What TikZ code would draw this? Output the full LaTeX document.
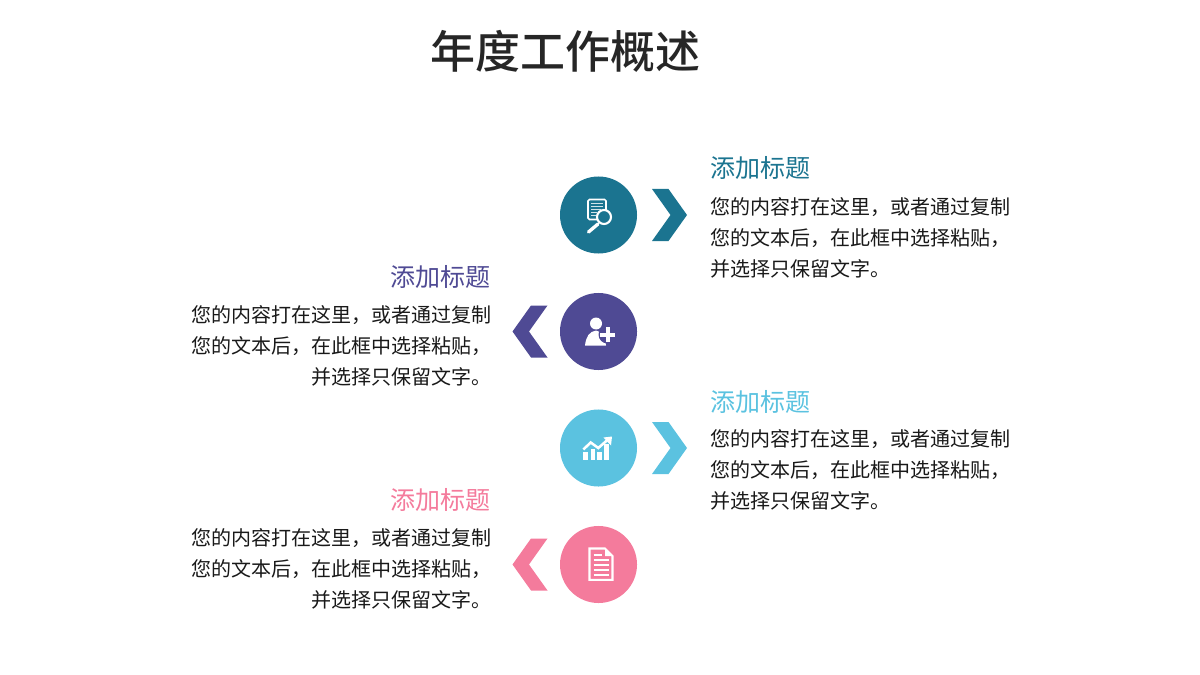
\documentclass[tikz,border=0pt]{standalone}
\usepackage{fontspec}
\setmainfont{Noto Sans CJK SC}
\newfontfamily\titlefont{Noto Sans CJK SC Medium}
\usetikzlibrary{positioning}
\definecolor{tealc}{HTML}{1B7490}
\definecolor{purplec}{HTML}{4F4A94}
\definecolor{skyc}{HTML}{5BC2E0}
\definecolor{pinkc}{HTML}{F47B9C}
\tikzset{
    disc/.style={circle, fill=#1, minimum size=1.925cm, inner sep=0pt},
    heading/.style={text=#1, inner sep=0pt, font=\fontsize{17.8}{22}\selectfont},
    bodyright/.style={anchor=north west, align=left, inner sep=0pt, text=black!90, font=\fontsize{14.23}{22.05}\selectfont},
    bodyleft/.style={anchor=north east, align=right, inner sep=0pt, text=black!90, font=\fontsize{14.23}{22.05}\selectfont},
    chevright/.pic={\fill[pic actions] (-17.5,-26) -- (-1,-26) -- (17.5,0) -- (-1,26) -- (-17.5,26) -- (1,0) -- cycle;},
    chevleft/.pic={\fill[pic actions] (17.5,-26) -- (1,-26) -- (-17.5,0) -- (1,26) -- (17.5,26) -- (-1,0) -- cycle;}
}
\begin{document}
\begin{tikzpicture}[x=0.025cm, y=-0.025cm]
    \useasboundingbox (0,0) rectangle (1200,675);
    \node[inner sep=0pt, text=black!85, font=\fontsize{32}{38}\selectfont\titlefont] (title) at (565,51) {年度工作概述};

    % circles
    \node[disc=tealc] (c1) at (598.5,215) {};
    \node[disc=purplec] (c2) at (598.5,331.5) {};
    \node[disc=skyc] (c3) at (598.5,448) {};
    \node[disc=pinkc] (c4) at (598.5,564.5) {};

    % chevrons
    \pic[fill=tealc] at (669.5,215) {chevright};
    \pic[fill=purplec] at (530,331.5) {chevleft};
    \pic[fill=skyc] at (669.5,448) {chevright};
    \pic[fill=pinkc] at (530,564.5) {chevleft};

    % texts
    \node[heading=tealc, anchor=west] (h1) at (710.5,168) {添加标题};
    \node[bodyright] (b1) at (710.5,197) {您的内容打在这里，或者通过复制\\您的文本后，在此框中选择粘贴，\\并选择只保留文字。};
    \node[heading=purplec, anchor=east] (h2) at (491,277) {添加标题};
    \node[bodyleft] (b2) at (491.5,305) {您的内容打在这里，或者通过复制\\您的文本后，在此框中选择粘贴，\\并选择只保留文字。};
    \node[heading=skyc, anchor=west] (h3) at (710.5,402) {添加标题};
    \node[bodyright] (b3) at (710.5,429) {您的内容打在这里，或者通过复制\\您的文本后，在此框中选择粘贴，\\并选择只保留文字。};
    \node[heading=pinkc, anchor=east] (h4) at (491,500) {添加标题};
    \node[bodyleft] (b4) at (491.5,528) {您的内容打在这里，或者通过复制\\您的文本后，在此框中选择粘贴，\\并选择只保留文字。};

    % icon: report and lens
    \draw[white, line width=1.1pt, rounded corners=1pt] (588,199.5) rectangle (606,219.5);
    \draw[white!80!tealc, line width=0.9pt] (591,203.5) -- (603,203.5) (591,206.5) -- (603,206.5) (591,209.5) -- (601,209.5) (591,212.5) -- (597,212.5) (591,215.5) -- (596,215.5);
    \draw[white, fill=tealc, line width=1.5pt] (604,217) circle (7);
    \draw[white, line width=2.4pt, line cap=round] (598,224) -- (588.5,232);

    % icon: person and plus
    \fill[white] (596,323.5) circle (6);
    \fill[white] (585,345.5) .. controls (586,337) and (589,331.5) .. (596,330.5) .. controls (602,331.5) and (605,337) .. (606,345.5) -- cycle;
    \fill[purplec] (607.5,334.5) circle (9);
    \fill[white] (605.5,327) rectangle (609.5,342);
    \fill[white] (600,332.5) rectangle (615,336.5);

    % icon: growth chart
    \fill[white] (583.3,451.5) rectangle (587.8,459.5);
    \fill[white] (590.5,449) rectangle (595,459.5);
    \fill[white] (597,451.5) rectangle (601.5,459.5);
    \fill[white] (604.3,444) rectangle (608.8,459.5);
    \draw[white, line width=1.8pt] (583.3,449.5) -- (590.7,442.5) -- (598.3,448) -- (608,439.5);
    \fill[white] (603.5,437.5) -- (612,436.5) -- (611,445.5) -- cycle;

    % icon: document
    \draw[white, line width=1.5pt] (589.5,548.5) -- (605,548.5) -- (612.5,556) -- (612.5,579.8) -- (589.5,579.8) -- cycle;
    \fill[white] (605,548.5) -- (612.5,556) -- (605,556) -- cycle;
    \draw[white, line width=0.8pt] (593.5,555) -- (602,555) (593.5,560) -- (608.5,560) (593.5,565) -- (608.5,565) (593.5,570) -- (608.5,570) (593.5,575) -- (608.5,575);
\end{tikzpicture}
\end{document}
